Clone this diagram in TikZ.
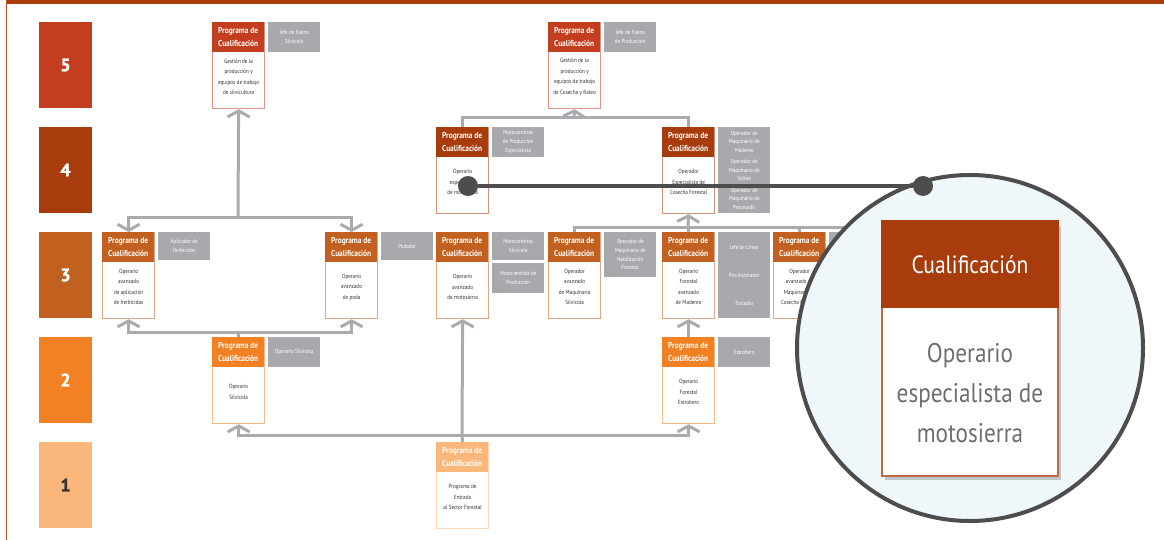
\documentclass[tikz,border=0pt]{standalone}
\usepackage{fontspec}
\setmainfont{PT Sans}[FakeStretch=0.86]
\newfontfamily\numfont{PT Sans Bold}[FakeBold=1.5]
\usetikzlibrary{arrows.meta,shadows,calc}
\definecolor{cfive}{HTML}{C33E1E}
\definecolor{cfour}{HTML}{A83C0C}
\definecolor{cthree}{HTML}{C2611F}
\definecolor{ctwo}{HTML}{F28124}
\definecolor{cone}{HTML}{FAB77B}
\definecolor{labgray}{HTML}{A7A9AC}
\definecolor{conngray}{HTML}{A9ABAE}
\definecolor{darkline}{HTML}{4D4D4D}
\definecolor{circfill}{HTML}{F0F7FA}
\definecolor{cardtext}{HTML}{6D6E71}
\definecolor{cardborder}{HTML}{BF6A43}
\definecolor{frameline}{HTML}{C0501E}
\newcommand{\progbox}[5]{%
  \node[pbody, draw=#4!55, anchor=north west] (#1) at (#2,#3) {};
  \node[phead, fill=#4, anchor=north west] (#1h) at (#2,#3) {Programa de\\Cualificación};
  \node[ptext] (#1t) at ([yshift=-55pt]#1.north) {#5};
}
\tikzset{arr/.tip={Straight Barb[length=6pt,width=22pt]}}
\begin{document}
\begin{tikzpicture}[x=1pt,y=-1pt,
  lvl/.style={rectangle, minimum width=53pt, minimum height=86pt, inner sep=0pt, text=white, font=\numfont\fontsize{18}{18}\selectfont},
  pbody/.style={rectangle, minimum width=52pt, minimum height=86pt, inner sep=0pt, fill=white, line width=1.2pt},
  phead/.style={rectangle, minimum width=52pt, minimum height=30pt, inner sep=0pt, text=white, align=center, font=\bfseries\fontsize{8.6}{12.5}\selectfont},
  ptext/.style={align=center, inner sep=0pt, text=black!80, font=\fontsize{6}{10.5}\selectfont},
  glab/.style={rectangle, fill=labgray, minimum width=52pt, inner sep=1pt, text=white, align=center, anchor=north west, font=\fontsize{5.9}{8.7}\selectfont},
  conn/.style={draw=conngray, line width=3pt},
  dot/.style={circle, fill=darkline, minimum size=20pt, inner sep=0pt},
  link/.style={draw=darkline, line width=4pt},
]
\useasboundingbox (0,0) rectangle (1164,540);
% frame
\fill[cfour] (6,0) rectangle (1164,4);
\draw[frameline, line width=1.5pt] (6.5,0) -- (6.5,540);
% level boxes
\node[lvl, fill=cfive] (L5) at (65.5,65) {5};
\node[lvl, fill=cfour] (L4) at (65.5,170) {4};
\node[lvl, fill=cthree] (L3) at (65.5,275) {3};
\node[lvl, fill=ctwo] (L2) at (65.5,380) {2};
\node[lvl, fill=cone, text=black!80] (L1) at (65.5,485) {1};
% junction points
\coordinate (h5a) at (238,217);
\coordinate (h5b) at (574,118);
\coordinate (h4b) at (688,227);
\coordinate (h4end) at (905,227);
\coordinate (h3a) at (238,332);
\coordinate (h1) at (462,435);
% program boxes
\progbox{pfa}{212}{22}{cfive}{Gestión de la\\producción y\\equipos de trabajo\\de silvicultura}
\progbox{pfb}{548}{22}{cfive}{Gestión de la\\producción y\\equipos de trabajo\\de Cosecha y Raleo}
\progbox{pqa}{436}{127}{cfour}{Operario\\especialista\\de motosierra}
\progbox{pqb}{662}{127}{cfour}{Operador\\Especialista de\\Cosecha Forestal}
\progbox{pta}{102}{232}{cthree}{Operario\\avanzado\\de aplicación\\de herbicidas}
\progbox{ptb}{325}{232}{cthree}{Operario\\avanzado\\de poda}
\progbox{ptc}{436}{232}{cthree}{Operario\\avanzado\\de motosierra}
\progbox{ptd}{548}{232}{cthree}{Operador\\avanzado\\de Maquinaria\\Silvícola}
\progbox{pte}{662}{232}{cthree}{Operario\\Forestal\\avanzado\\de Madereo}
\progbox{ptf}{773}{232}{cthree}{Operador\\avanzado de\\Maquinaria de\\Cosecha Forestal}
\progbox{pwa}{212}{337}{ctwo}{Operario\\Silvícola}
\progbox{pwb}{662}{337}{ctwo}{Operario\\Forestal\\Estrobero}
\progbox{po}{436}{442}{cone}{Programa de\\Entrada\\al Sector Forestal}
% gray labels
\node[glab, minimum height=30pt] (gfa) at (268,22) {Jefe de Faena\\Silvícola};
\node[glab, minimum height=30pt] (gfb) at (604,22) {Jefe de Faena\\de Producción};
\node[glab, minimum height=30pt] (gqa) at (492,127) {Motocientista\\de Producción\\Especialista};
\node[glab, minimum height=86pt] (gqb) at (718,127) {Operador de\\Maquinaria de\\Madereo\\[2.4pt]Operador de\\Maquinaria de\\Volteo\\[2.4pt]Operador de\\Maquinaria de\\Procesado};
\node[glab, minimum height=28pt] (gta) at (158,232) {Aplicador de\\Herbicidas};
\node[glab, minimum height=28pt] (gtb) at (381,232) {Podador};
\node[glab, minimum height=28pt] (gtc) at (492,232) {Motocientista\\Silvícola};
\node[glab, minimum height=30pt] (gtd) at (492,263) {Motocientista de\\Producción};
\node[glab, minimum height=45pt] (gte) at (604,232) {Operador de\\Maquinaria de\\Habilitación\\Forestal};
\node[glab, minimum height=86pt, font=\fontsize{5.9}{28}\selectfont] (gtf) at (718,232) {Jefe de Línea\\Pre-instalador\\Trozador};
\node[glab, minimum height=30pt] (gtg) at (829,232) {};
\node[glab, minimum height=30pt] (gwa) at (268,337) {Operario Silvícola};
\node[glab, minimum height=30pt] (gwb) at (718,337) {Estrobero};
% connectors between named boxes
\draw[conn, arr-arr] (pta.north) |- (h5a) -| (ptb.north);
\draw[conn, -arr] (h5a) -- (pfa.south);
\draw[conn] (pqa.north) |- (h5b) -| (pqb.north);
\draw[conn, -arr] (h5b) -- (pfb.south);
\draw[conn] (ptd.north) |- (h4b) -- (h4end);
\draw[conn] (pte.north) -- (h4b);
\draw[conn] (ptf.north) -- (ptf.north |- h4b);
\draw[conn, -arr] (h4b) -- (pqb.south);
\draw[conn, arr-arr] (pta.south) |- (h3a) -| (ptb.south);
\draw[conn] (pwa.north) -- (h3a);
\draw[conn, -arr] (pwb.north) -- (pte.south);
\draw[conn, arr-arr] (pwa.south) |- (h1) -| (pwb.south);
\draw[conn] (po.north) -- (h1);
\draw[conn, -arr] (h1) -- (ptc.south);
% magnifier
\node[circle, minimum size=346pt, inner sep=0pt, fill=circfill, draw=darkline, line width=4pt] (zc) at (970,348) {};
\node[rectangle, minimum width=176pt, minimum height=254pt, inner sep=0pt, fill=white, draw=cardborder, line width=2pt, drop shadow={shadow xshift=3pt, shadow yshift=-4pt, opacity=0.35, fill=black!60}] (card) at (970,349) {};
\node[rectangle, minimum width=178pt, minimum height=88pt, inner sep=0pt, fill=cfour, anchor=north, text=white, font=\fontsize{25}{25}\selectfont] (cardh) at ([yshift=1pt]card.north) {Cualificación};
\node[align=center, text=cardtext, inner sep=0pt, font=\fontsize{27}{40}\selectfont] (cardt) at (970,393) {Operario\\especialista de\\motosierra};
% link
\node[dot] (d1) at (468,186) {};
\node[dot] (d2) at (923,186) {};
\draw[link] (d1) -- (d2);
\end{tikzpicture}
\end{document}
